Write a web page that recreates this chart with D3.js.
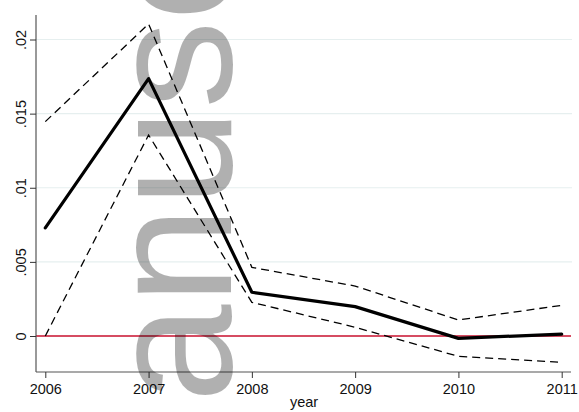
<!DOCTYPE html>
<html>
<head>
<meta charset="utf-8">
<script src="https://cdn.jsdelivr.net/npm/d3@7/dist/d3.min.js"></script>
<style>
  html, body { margin: 0; padding: 0; background: #fff; }
  svg { display: block; }
  text { font-family: "Liberation Sans", Arial, sans-serif; fill: #111; }
</style>
</head>
<body>
<div id="chart"></div>
<script>
// Yearly estimate with its confidence band
const years = [2006, 2007, 2008, 2009, 2010, 2011];
const estimate = [0.00729, 0.01736, 0.00295, 0.00198, -0.00016, 0.00013];
const upper    = [0.01446, 0.02105, 0.00463, 0.00337, 0.00108, 0.00207];
const lower    = [0.00000, 0.01356, 0.00227, 0.00059, -0.00137, -0.00177];
const yTicks = [0, 0.005, 0.01, 0.015, 0.02];
const yTickLabels = ["0", ".005", ".01", ".015", ".02"];

const W = 579, H = 412;
const plot = { left: 36, right: 571, top: 15, bottom: 372 };

const svg = d3.select("#chart").append("svg")
  .attr("width", W).attr("height", H);

const x = d3.scaleLinear().domain([2006, 2011]).range([45.3, 561.7]);
const y = d3.scaleLinear().domain([0, 0.02]).range([336, 39.5]);

// horizontal gridlines
svg.append("g").selectAll("line").data(yTicks.filter(d => d !== 0)).join("line")
  .attr("x1", plot.left).attr("x2", plot.right + 1)
  .attr("y1", d => y(d)).attr("y2", d => y(d))
  .attr("stroke", "#e6efef").attr("stroke-width", 1.2);

// zero reference line
svg.append("line")
  .attr("x1", plot.left).attr("x2", plot.right)
  .attr("y1", y(0)).attr("y2", y(0))
  .attr("stroke", "#c8102e").attr("stroke-width", 1.3);

// axes
const yAxis = d3.axisLeft(y).tickValues(yTicks)
  .tickFormat((d, i) => yTickLabels[i]).tickSize(6).tickSizeOuter(0);
const gy = svg.append("g").attr("transform", `translate(${plot.left},0)`).call(yAxis);
gy.select(".domain").attr("d", `M0,${plot.top}V${plot.bottom}`);
gy.selectAll(".tick line").attr("stroke", "#333");
// vertical tick labels, rotated about their own tick
gy.selectAll(".tick text")
  .attr("font-size", 14.5)
  .attr("font-family", "Liberation Sans, Arial, sans-serif")
  .attr("fill", "#111")
  .attr("transform", "rotate(-90)")
  .attr("x", 0).attr("y", -10.5)
  .attr("dy", 0)
  .attr("text-anchor", "middle");

const xAxis = d3.axisBottom(x).tickValues(years)
  .tickFormat(d3.format("d")).tickSize(6).tickSizeOuter(0);
const gx = svg.append("g").attr("transform", `translate(0,${plot.bottom})`).call(xAxis);
gx.select(".domain").attr("d", `M${plot.left},0H${plot.right}`);
gx.selectAll(".tick line").attr("stroke", "#333");
gx.selectAll(".tick text")
  .attr("font-size", 14.5)
  .attr("font-family", "Liberation Sans, Arial, sans-serif")
  .attr("fill", "#111")
  .attr("y", 12).attr("dy", "0.71em");
svg.selectAll(".domain").attr("stroke", "#555").attr("stroke-width", 1.2);

svg.append("text")
  .attr("x", 304).attr("y", 407)
  .attr("text-anchor", "middle")
  .attr("font-size", 14.5)
  .text("year");

// series
const line = d3.line().x((d, i) => x(years[i])).y(d => y(d));
svg.append("path").datum(upper).attr("d", line)
  .attr("fill", "none").attr("stroke", "#000").attr("stroke-width", 1.3)
  .attr("stroke-dasharray", "8,5");
svg.append("path").datum(lower).attr("d", line)
  .attr("fill", "none").attr("stroke", "#000").attr("stroke-width", 1.3)
  .attr("stroke-dasharray", "8,5");
svg.append("path").datum(estimate).attr("d", line)
  .attr("fill", "none").attr("stroke", "#000").attr("stroke-width", 3.2)
  .attr("stroke-linejoin", "round").attr("stroke-linecap", "round");

// page watermark
svg.append("text")
  .attr("transform", "translate(231,549) rotate(-90)")
  .attr("font-size", 176)
  .attr("font-family", "Liberation Sans, Arial, sans-serif")
  .style("fill", "#000").style("fill-opacity", 0.31)
  .text("Manuscript");
</script>
</body>
</html>
